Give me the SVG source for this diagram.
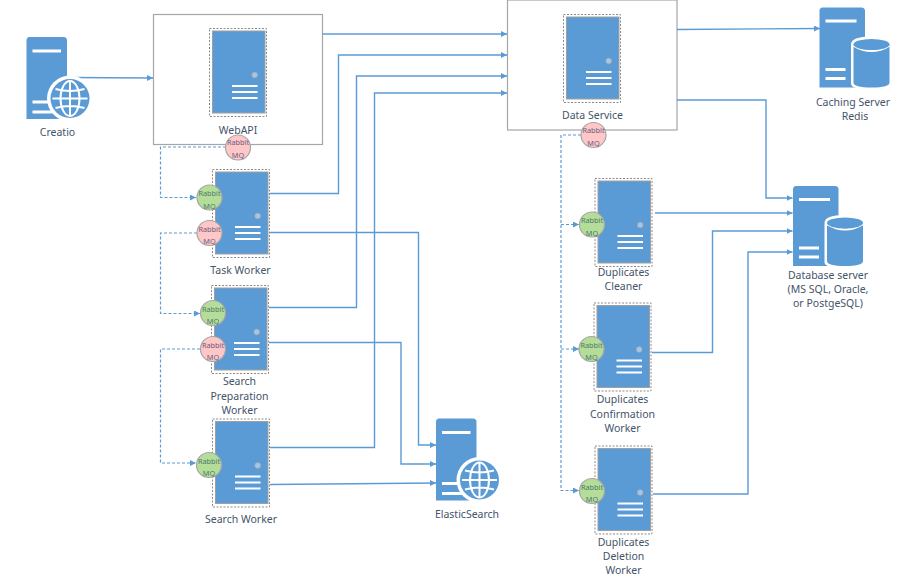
<svg xmlns="http://www.w3.org/2000/svg" xmlns:xlink="http://www.w3.org/1999/xlink" width="900" height="579" viewBox="0 0 900 579">
<style>
text{font-family:"Noto Sans","Open Sans","Liberation Sans",sans-serif;font-size:10.5px;fill:#44546a;text-anchor:middle}
.box{fill:#fff;stroke:#a6a6a6;stroke-width:1.2}
.c{fill:none;stroke:#5b9bd5;stroke-width:1.4}
.d{fill:none;stroke:#5b9bd5;stroke-width:1.2;stroke-dasharray:3 2}
.r text{font-size:7.3px}
.pink{fill:#ffc7c7;stroke:#a6a6a6;stroke-width:1.2}
.green{fill:#b5dd9a;stroke:#a6a6a6;stroke-width:1.2}
.gr text{fill:#4f7a68}
.pk text{fill:#6a6080}
</style>
<defs>
<marker id="a" markerWidth="7" markerHeight="7" refX="6" refY="3" orient="auto" markerUnits="userSpaceOnUse"><path d="M0 0L6 3L0 6Z" fill="#5b9bd5"/></marker>
<g id="srv">
<rect x="0.5" y="0.5" width="57" height="88" fill="#fff" stroke="#8c8c8c" stroke-width="1" stroke-dasharray="2 1.5"/>
<rect x="3.5" y="3" width="52.5" height="82" fill="#5b9bd5" stroke="#a0a0a0" stroke-width="1"/>
<circle cx="45.7" cy="47" r="3" fill="#a9c4de" stroke="#8c9fb3" stroke-width="0.6"/>
<path d="M23 58H48.500M23 64H48.500M23 70H48.500" stroke="#fff" stroke-width="1.800" fill="none"/>
</g>
<g id="globe">
<path d="M3 0H37Q40.500 0 40.500 3.500V82H0V3.500Q0 0 3 0Z" fill="#5b9bd5"/>
<path d="M6 14H34.500M6 65H26M6 75H26" stroke="#fff" stroke-width="3" fill="none"/>
<circle cx="43.500" cy="61.500" r="23" fill="#fff"/>
<circle cx="43.500" cy="61.500" r="19.500" fill="#5b9bd5"/>
<g fill="none" stroke="#fff" stroke-width="2">
<ellipse cx="43.500" cy="61.500" rx="9.500" ry="17.500"/>
<path d="M43.500 44V79M26 61.500H61M29 52Q43.500 56 58 52M29 71Q43.500 67 58 71"/>
</g>
</g>
<g id="cyl">
<path d="M3 0H42Q45.500 0 45.500 3.500V80H0V3.500Q0 0 3 0Z" fill="#5b9bd5"/>
<path d="M6 13.500H37M6 62H26M6 71H26" stroke="#fff" stroke-width="3" fill="none"/>
<path d="M31.500 37Q31.500 29 52 29Q72.500 29 72.500 37V76Q72.500 82 52 82Q31.500 82 31.500 76Z" fill="#fff"/>
<path d="M34 37V75Q34 80 52 80Q70 80 70 75V37Z" fill="#5b9bd5"/>
<path d="M34 38Q52 49 70 38" fill="none" stroke="#fff" stroke-width="2.200"/>
<ellipse cx="52" cy="37" rx="18" ry="5.500" fill="#5b9bd5"/>
</g>
</defs>

<g id="node-webapi-box"><rect class="box" x="153.500" y="14.500" width="169" height="130"/></g>
<g id="node-dataservice-box"><rect class="box" x="507.500" y="0" width="169.500" height="130"/></g>

<g id="connectors">
<path class="c" d="M68 77.500L153 78" marker-end="url(#a)"/>
<path class="c" d="M322.500 34H507" marker-end="url(#a)"/>
<path class="c" d="M270 193.500H338.500V55H507" marker-end="url(#a)"/>
<path class="c" d="M269 307.500H356.500V76H507" marker-end="url(#a)"/>
<path class="c" d="M270 447.500H374.500V93H507" marker-end="url(#a)"/>
<path class="c" d="M270 232.500H418.500V445H436" marker-end="url(#a)"/>
<path class="c" d="M269 342.500H401V464H436" marker-end="url(#a)"/>
<path class="c" d="M270 484.500L436 483" marker-end="url(#a)"/>
<path class="c" d="M677 29.500L820 28.500" marker-end="url(#a)"/>
<path class="c" d="M677 100H766V198H792.500" marker-end="url(#a)"/>
<path class="c" d="M655 213H792.500" marker-end="url(#a)"/>
<path class="c" d="M652 352.500H712.500V231H792.500" marker-end="url(#a)"/>
<path class="c" d="M653 494H748V252H792.500" marker-end="url(#a)"/>
<path class="d" d="M226 147H160.500V197.500H196" marker-end="url(#a)"/>
<path class="d" d="M197 233H160.500V313.500H200" marker-end="url(#a)"/>
<path class="d" d="M200 349H160.500V463H196" marker-end="url(#a)"/>
<path class="d" d="M581 135H561V490.500H579" marker-end="url(#a)"/>
<path class="d" d="M561 224.500H579" marker-end="url(#a)"/>
<path class="d" d="M561 349H579" marker-end="url(#a)"/>
</g>

<g id="node-creatio"><use xlink:href="#globe" href="#globe" x="26.500" y="37"/><text x="57.500" y="136">Creatio</text></g>

<g id="node-webapi"><use xlink:href="#srv" href="#srv" x="209" y="28"/><text x="238" y="134">WebAPI</text>
<g class="r pk"><circle class="pink" cx="238" cy="147.500" r="12.500"/><text x="238" y="145">Rabbit</text><text x="238" y="158">MQ</text></g></g>

<g id="node-task-worker"><use xlink:href="#srv" href="#srv" x="212" y="169"/><text x="240.500" y="274">Task Worker</text>
<g class="r gr"><circle class="green" cx="209.500" cy="197.500" r="12.500"/><text x="209.500" y="196">Rabbit</text><text x="209.500" y="208.500">MQ</text></g>
<g class="r pk"><circle class="pink" cx="209.500" cy="233" r="12.500"/><text x="209.500" y="231.500">Rabbit</text><text x="209.500" y="244">MQ</text></g></g>

<g id="node-search-prep"><use xlink:href="#srv" href="#srv" x="211" y="285"/><text x="239.500" y="385">Search</text><text x="239.500" y="400">Preparation</text><text x="239.500" y="414">Worker</text>
<g class="r gr"><circle class="green" cx="213" cy="313" r="12.500"/><text x="213" y="311.500">Rabbit</text><text x="213" y="324">MQ</text></g>
<g class="r pk"><circle class="pink" cx="213" cy="349" r="12.500"/><text x="213" y="347.500">Rabbit</text><text x="213" y="360">MQ</text></g></g>

<g id="node-search-worker"><use xlink:href="#srv" href="#srv" x="212" y="418.500"/><text x="241" y="523">Search Worker</text>
<g class="r gr"><circle class="green" cx="209" cy="465" r="12.500"/><text x="209" y="463.500">Rabbit</text><text x="209" y="476">MQ</text></g></g>

<g id="node-elastic"><use xlink:href="#globe" href="#globe" x="436" y="418.500"/><text x="467" y="518">ElasticSearch</text></g>

<g id="node-data-service"><use xlink:href="#srv" href="#srv" x="563" y="14"/><text x="592.500" y="119">Data Service</text>
<g class="r pk"><circle class="pink" cx="593.500" cy="135" r="12.500"/><text x="593.500" y="133">Rabbit</text><text x="593.500" y="146">MQ</text></g></g>

<g id="node-redis"><use xlink:href="#cyl" href="#cyl" x="819.500" y="7.500"/><text x="853" y="106">Caching Server</text><text x="855" y="120">Redis</text></g>

<g id="node-db"><use xlink:href="#cyl" href="#cyl" x="793" y="186"/><text x="828" y="279">Database server</text><text x="828" y="293">(MS SQL, Oracle,</text><text x="828" y="307">or PostgeSQL)</text></g>

<g id="node-dup-cleaner"><use xlink:href="#srv" href="#srv" x="594.500" y="178"/><text x="623.500" y="276">Duplicates</text><text x="623.500" y="290">Cleaner</text>
<g class="r gr"><circle class="green" cx="592" cy="224.500" r="12.500"/><text x="592" y="223">Rabbit</text><text x="592" y="235.500">MQ</text></g></g>

<g id="node-dup-confirm"><use xlink:href="#srv" href="#srv" x="593.500" y="302.500"/><text x="622.500" y="403">Duplicates</text><text x="622.500" y="418">Confirmation</text><text x="622.500" y="432">Worker</text>
<g class="r gr"><circle class="green" cx="591.500" cy="349" r="12.500"/><text x="591.500" y="347.500">Rabbit</text><text x="591.500" y="360">MQ</text></g></g>

<g id="node-dup-delete"><use xlink:href="#srv" href="#srv" x="594.500" y="445.500"/><text x="623.500" y="546">Duplicates</text><text x="623.500" y="560">Deletion</text><text x="623.500" y="574">Worker</text>
<g class="r gr"><circle class="green" cx="592" cy="491" r="12.500"/><text x="592" y="489.500">Rabbit</text><text x="592" y="502">MQ</text></g></g>
</svg>
